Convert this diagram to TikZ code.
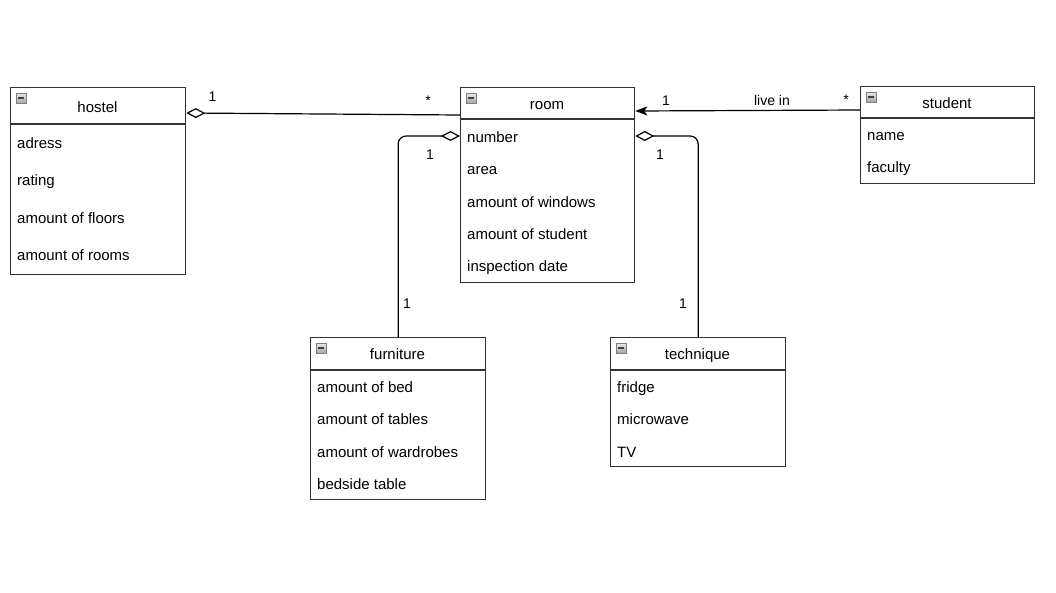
\documentclass[tikz,border=0pt]{standalone}
\usepackage{fontspec}
\setmainfont{Liberation Sans}
\usetikzlibrary{arrows.meta}
\tikzset{
  classbox/.style={draw=black!80, line width=1.3pt, anchor=north west, inner sep=0pt},
  headline/.style={draw=black!80, line width=1.3pt},
  classname/.style={anchor=base, font=\fontsize{15}{18}\selectfont, inner sep=0pt},
  attr/.style={anchor=base west, font=\fontsize{15}{18}\selectfont, inner sep=0pt},
  mult/.style={anchor=base, font=\fontsize{14}{17}\selectfont, inner sep=0pt},
  minusicon/.style={draw=black!50, top color=black!10, bottom color=black!35, minimum size=9.5pt, inner sep=0pt, anchor=north west, line width=0.7pt,
    path picture={\draw[black!75, line width=1.5pt] ([xshift=2pt]path picture bounding box.west) -- ([xshift=-2pt]path picture bounding box.east);}},
  aggr/.style={{Diamond[open, length=19pt, width=10pt]}-, line width=1.2pt},
  assoc/.style={-{Stealth[length=12pt, width=9pt, inset=3pt]}, line width=1.2pt}
}
\begin{document}
\begin{tikzpicture}[x=1pt,y=-1pt]
\useasboundingbox (0,0) rectangle (1056,592);
% classes
\node[classbox, minimum width=175pt, minimum height=187pt] (hostel) at (10,87) {};
\node[classbox, minimum width=174pt, minimum height=195pt] (room) at (460,87) {};
\node[classbox, minimum width=174pt, minimum height=97pt] (student) at (860,86) {};
\node[classbox, minimum width=175pt, minimum height=162pt] (furniture) at (310,337) {};
\node[classbox, minimum width=175pt, minimum height=129pt] (technique) at (610,337) {};
\draw[headline] ([yshift=-37pt]hostel.north west) -- ([yshift=-37pt]hostel.north east);
\draw[headline] ([yshift=-32pt]room.north west) -- ([yshift=-32pt]room.north east);
\draw[headline] ([yshift=-32pt]student.north west) -- ([yshift=-32pt]student.north east);
\draw[headline] ([yshift=-33pt]furniture.north west) -- ([yshift=-33pt]furniture.north east);
\draw[headline] ([yshift=-33pt]technique.north west) -- ([yshift=-33pt]technique.north east);
\node[minusicon] (hostelicon) at (16,93) {};
\node[minusicon] (roomicon) at (466,93) {};
\node[minusicon] (studenticon) at (866,92) {};
\node[minusicon] (furnitureicon) at (316,343) {};
\node[minusicon] (techniqueicon) at (616,343) {};
% titles
\node[classname] (hostelname) at (97.5,112) {hostel};
\node[classname] (roomname) at (547,109.3) {room};
\node[classname] (studentname) at (947,108.3) {student};
\node[classname] (furniturename) at (397.5,359) {furniture};
\node[classname] (techniquename) at (697.5,359) {technique};
% attributes
\node[attr] (adress) at (17,148.3) {adress};
\node[attr] (rating) at (17,185.8) {rating};
\node[attr] (floors) at (17,223.3) {amount of floors};
\node[attr] (rooms) at (17,260.8) {amount of rooms};
\node[attr] (number) at (467,142.5) {number};
\node[attr] (area) at (467,174.7) {area};
\node[attr] (windows) at (467,207) {amount of windows};
\node[attr] (students) at (467,239.2) {amount of student};
\node[attr] (inspection) at (467,271.4) {inspection date};
\node[attr] (name) at (867,140) {name};
\node[attr] (faculty) at (867,172.5) {faculty};
\node[attr] (beds) at (317,392.3) {amount of bed};
\node[attr] (tables) at (317,424.8) {amount of tables};
\node[attr] (wardrobes) at (317,457.3) {amount of wardrobes};
\node[attr] (bedside) at (317,489.8) {bedside table};
\node[attr] (fridge) at (617,392.3) {fridge};
\node[attr] (microwave) at (617,424.8) {microwave};
\node[attr] (tv) at (617,457.3) {TV};
% connectors
\draw[aggr] ([yshift=-26pt]hostel.north east) -- ([yshift=-28pt]room.north west);
\draw[assoc] ([yshift=-24pt]student.north west) -- ([yshift=-24pt]room.north east);
\draw[aggr, rounded corners=8pt] ([yshift=-49pt]room.north west) -| (furniture.north);
\draw[aggr, rounded corners=8pt] ([yshift=-49pt]room.north east) -| (technique.north);
% multiplicities
\node[mult] (hostelone) at (212.5,101) {1};
\node[mult] (roommany) at (428,105) {*};
\node[mult] (roomfurn) at (430,159) {1};
\node[mult] (furnone) at (407,308) {1};
\node[mult] (roomtech) at (660,159) {1};
\node[mult] (techone) at (683,308) {1};
\node[mult] (roomone) at (666,105) {1};
\node[mult] (livein) at (772,105) {live in};
\node[mult] (studentmany) at (846,104) {*};
\end{tikzpicture}
\end{document}
